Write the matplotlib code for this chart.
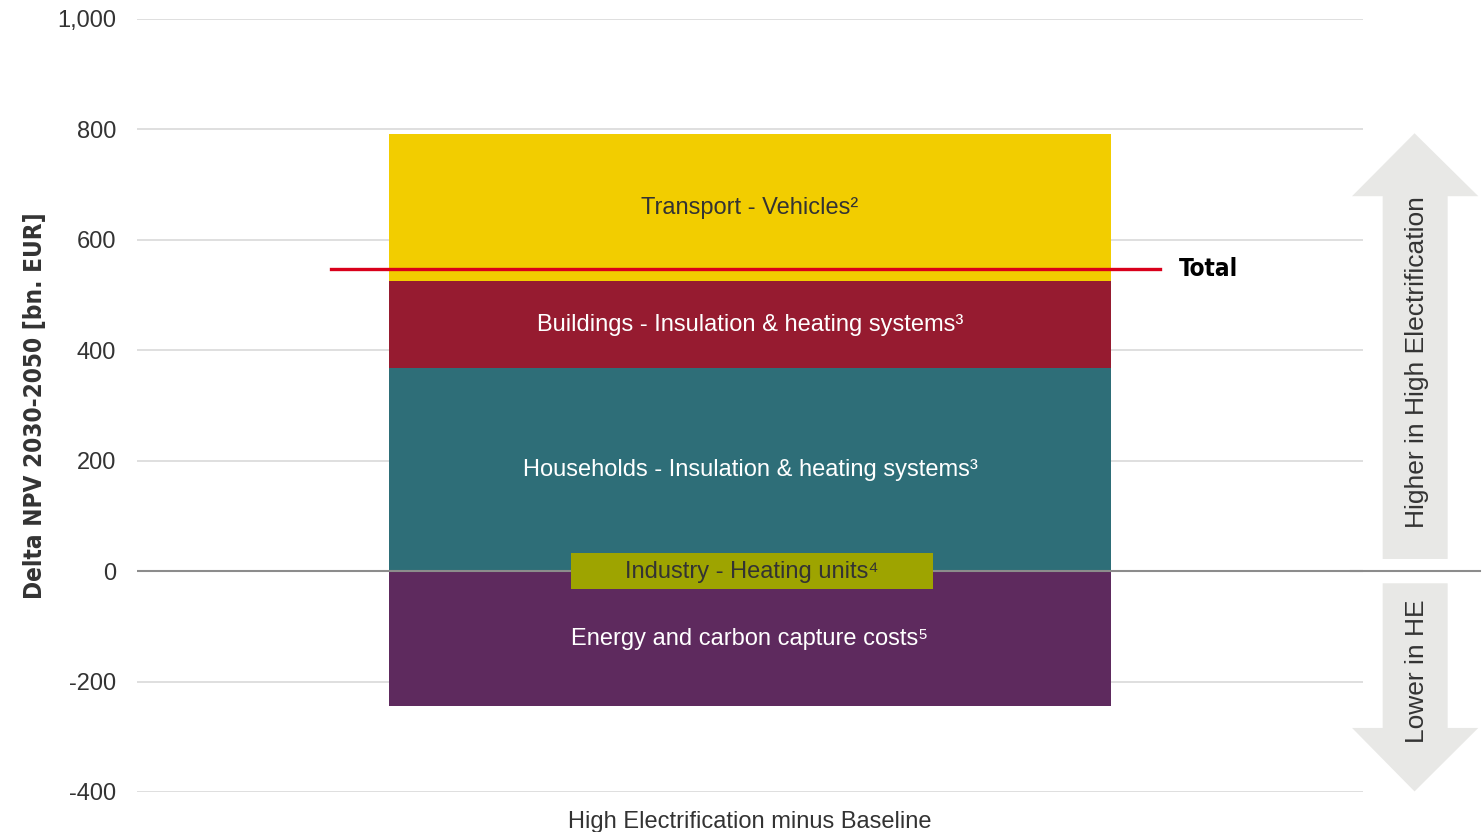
import matplotlib
matplotlib.use("Agg")
from matplotlib import pyplot as plt
from matplotlib import font_manager as fm
from matplotlib.patches import Polygon, Rectangle
from matplotlib.ticker import FuncFormatter

plt.rcParams['font.family'] = ['Liberation Sans', 'DejaVu Sans']

# Delta NPV 2030-2050 by component, bn. EUR (High Electrification minus Baseline)
category = "High Electrification minus Baseline"
components = ["Households - Insulation & heating systems³",
              "Buildings - Insulation & heating systems³",
              "Transport - Vehicles²",
              "Industry - Heating units⁴",
              "Energy and carbon capture costs⁵"]
values = [368, 157, 267, -2, -242]
colors = ["#2e6e78", "#961b30", "#f2cd00", "#9ea400", "#5e2a5e"]
text_colors = ["white", "white", "#333333", "#333333", "white"]
yticks = [-400, -200, 0, 200, 400, 600, 800, 1000]

# narrow bold face for the axis title if one is around
condensed = [f for f in fm.fontManager.ttflist
             if f.stretch in ("condensed", "semi-condensed")
             or "Narrow" in f.name or "Condensed" in f.name]
if condensed:
    narrow = dict(family=[condensed[0].name, "Liberation Sans"],
                  fontstretch=condensed[0].stretch, fontsize=17.5)
else:
    narrow = dict(family=["Liberation Sans"], fontsize=15)

fig = plt.figure(figsize=(14.84, 8.32), dpi=100)
ax = fig.add_axes([0.0923, 0.0481, 0.8262, 0.9291])

bar_w = 1.178
pos_base, neg_base = 0, 0
for name, v, c, tc in zip(components, values, colors, text_colors):
    if v >= 0:
        bottom = pos_base
        pos_base += v
    else:
        bottom = neg_base
        neg_base += v
    ax.bar(0, v, bottom=bottom, width=bar_w, color=c, zorder=2)
    mid = bottom + v / 2
    if name.startswith("Industry"):
        # segment is too thin for its label, put it on a coloured plate
        ax.add_patch(Rectangle((-0.292, mid - 32), 0.59, 65, fc=c, ec="none",
                               zorder=4))
        ax.text(0.003, mid, name, ha="center", va="center", fontsize=17,
                color=tc, zorder=5)
    else:
        ax.text(0, mid, name, ha="center", va="center", fontsize=17,
                color=tc, zorder=3)

ax.axhline(0, color="#8c8c8c", lw=1.5, zorder=3)

total = sum(values)
ax.plot([-0.684, 0.669], [total, total], color="#d9001b", lw=2.4, zorder=6)
ax.text(0.7, total, "Total", ha="left", va="center", fontweight="bold",
        color="black", **narrow)

ax.set_xlim(-1, 1)
ax.set_ylim(-400, 1000)
ax.set_yticks(yticks)
ax.yaxis.set_major_formatter(FuncFormatter(lambda v, p: f"{int(v):,}"))
ax.set_xticks([0])
ax.set_xticklabels([category])
ax.tick_params(axis="both", length=0, labelsize=17, colors="#333333")
ax.tick_params(axis="y", pad=15)
ax.tick_params(axis="x", pad=14)
ax.grid(axis="y", color="#d9d9d9", lw=1.2, zorder=0)
for s in ax.spines.values():
    s.set_visible(False)

ax.set_ylabel("Delta NPV 2030-2050 [bn. EUR]", fontweight="bold",
              color="#333333", **narrow)
ax.yaxis.set_label_coords(-0.073, 0.5)

# direction arrows on the right, x in axes fraction, y in data units
tr = ax.get_yaxis_transform()
up = [(1.042, 793), (1.094, 679), (1.069, 679), (1.069, 22),
      (1.016, 22), (1.016, 679), (0.991, 679)]
down = [(1.042, -399), (1.094, -284), (1.069, -284), (1.069, -22),
        (1.016, -22), (1.016, -284), (0.991, -284)]
for pts in (up, down):
    ax.add_patch(Polygon(pts, closed=True, transform=tr, fc="#e8e8e6",
                         ec="none", clip_on=False, zorder=1))
ax.plot([0.99, 1.095], [0, 0], transform=tr, color="#8c8c8c", lw=1.5,
        clip_on=False, zorder=2)
ax.text(1.044, 378, "Higher in High Electrification", transform=tr,
        rotation=90, ha="center", va="center", fontsize=19, color="#333333")
ax.text(1.044, -181, "Lower in HE", transform=tr, rotation=90,
        ha="center", va="center", fontsize=19, color="#333333")

fig.savefig("out.png")
